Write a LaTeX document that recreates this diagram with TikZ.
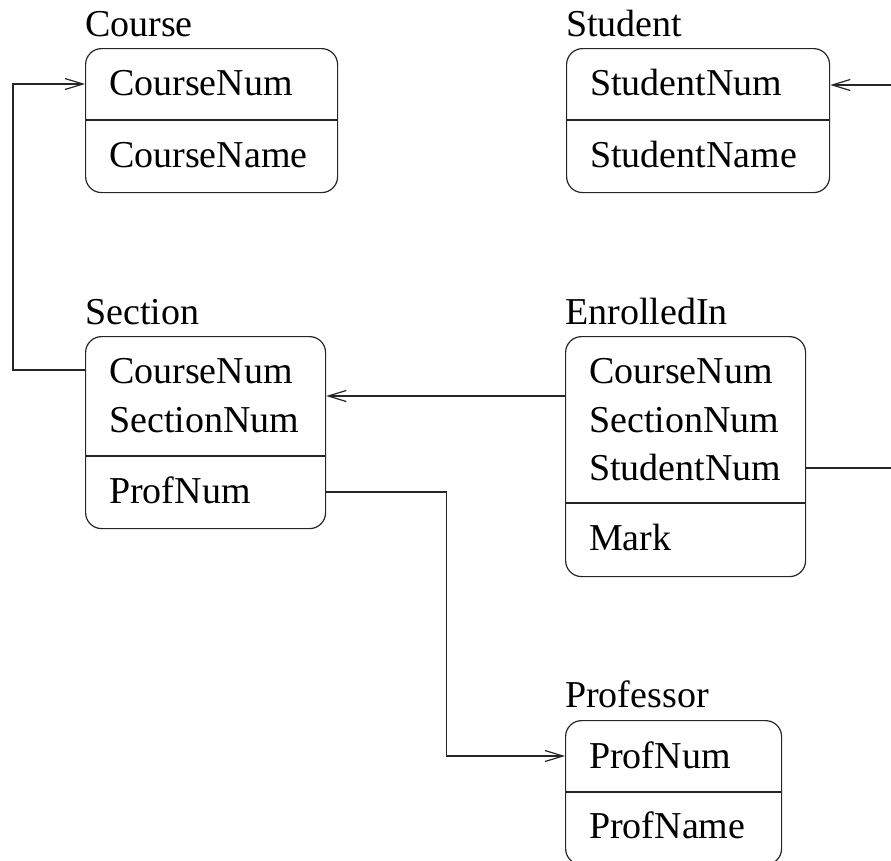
\documentclass[tikz,border=0pt]{standalone}
\usepackage{fontspec}
\setmainfont{Liberation Serif}
\newfontfamily\timesfam{Liberation Serif}
\usetikzlibrary{arrows.meta,calc}
\begin{document}
\begin{tikzpicture}[x=1pt,y=-1pt,
  box/.style={draw=black!85,line width=1.2pt,rounded corners=16pt,anchor=north west,inner sep=0pt},
  txt/.style={anchor=base west,inner sep=0pt,font=\timesfam\fontsize{38}{46}\selectfont},
  divider/.style={draw=black!85,line width=1.2pt},
  conn/.style={draw=black!85,line width=1.2pt},
  arr/.style={conn,-{Straight Barb[length=18pt,width=11pt]}}]
\useasboundingbox (0,0) rectangle (891,860);
\clip (0,0) rectangle (891,860);
% Course
\node[box,minimum width=252pt,minimum height=144pt] (course) at (85,48) {};
\node[txt] (courseT) at (85,36) {Course};
\node[txt] (courseA) at (109,95) {CourseNum};
\node[txt] (courseB) at (109,167) {CourseName};
\draw[divider] ($(course.north west)+(0,72)$) -- ($(course.north east)+(0,72)$);
% Student
\node[box,minimum width=263pt,minimum height=144pt] (student) at (566,48) {};
\node[txt] (studentT) at (566,36) {Student};
\node[txt] (studentA) at (590,95) {StudentNum};
\node[txt] (studentB) at (590,167) {StudentName};
\draw[divider] ($(student.north west)+(0,72)$) -- ($(student.north east)+(0,72)$);
% Section
\node[box,minimum width=240pt,minimum height=192pt] (section) at (85,336) {};
\node[txt] (sectionT) at (85,324) {Section};
\node[txt] (sectionA) at (109,383) {CourseNum};
\node[txt] (sectionB) at (109,432) {SectionNum};
\node[txt] (sectionC) at (109,503) {ProfNum};
\draw[divider] ($(section.north west)+(0,120)$) -- ($(section.north east)+(0,120)$);
% EnrolledIn
\node[box,minimum width=240pt,minimum height=240pt] (enrolled) at (565,336) {};
\node[txt] (enrolledT) at (565,324) {EnrolledIn};
\node[txt] (enrolledA) at (589,383) {CourseNum};
\node[txt] (enrolledB) at (589,432) {SectionNum};
\node[txt] (enrolledC) at (589,480) {StudentNum};
\node[txt] (enrolledD) at (589,550) {Mark};
\draw[divider] ($(enrolled.north west)+(0,167)$) -- ($(enrolled.north east)+(0,167)$);
% Professor
\node[box,minimum width=216pt,minimum height=144pt] (professor) at (565,720) {};
\node[txt] (professorT) at (565,707) {Professor};
\node[txt] (professorA) at (589,768) {ProfNum};
\node[txt] (professorB) at (589,838) {ProfName};
\draw[divider] ($(professor.north west)+(0,72)$) -- ($(professor.north east)+(0,72)$);
% Connectors
\draw[arr] ($(section.north west)+(0,34)$) -- ++(-72,0) |- ($(course.north west)+(0,36)$);
\draw[arr] ($(enrolled.north west)+(0,60)$) coordinate (e1) -- (section.east |- e1);
\draw[arr] ($(section.north east)+(0,156)$) -- ++(120,0) |- ($(professor.north west)+(0,36)$);
\draw[arr] ($(enrolled.north east)+(0,132)$) -- ++(110,0) |- ($(student.north east)+(0,37)$);
\end{tikzpicture}
\end{document}
